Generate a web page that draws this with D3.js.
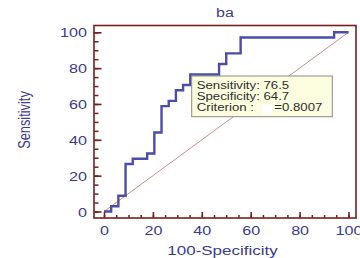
<!DOCTYPE html>
<html>
<head>
<meta charset="utf-8">
<script src="https://cdn.jsdelivr.net/npm/d3@7"></script>
<style>
  body { margin: 0; background: #fff; }
  svg { display: block; font-family: "Liberation Sans", Arial, sans-serif; }
</style>
</head>
<body>
<svg id="chart" width="360" height="258"></svg>
<script>
// ROC 曲线数据 (100-Specificity, Sensitivity)
const fpr = [0, 2.94, 5.88, 8.82, 11.76, 17.65, 20.59, 23.53, 26.47, 29.41, 32.35, 35.29, 47.06, 50.0, 55.88, 94.12, 100];
const tpr = [0, 2.94, 8.82, 26.47, 29.41, 32.35, 44.12, 58.82, 61.76, 67.65, 70.59, 76.47, 82.35, 88.24, 97.06, 100, 100];
const xTicks = [0, 20, 40, 60, 80, 100];
const yTicks = [0, 20, 40, 60, 80, 100];
const boxLines = ["Sensitivity: 76.5", "Specificity: 64.7", "Criterion :"];
const criterion = "=0.8007";

const svg = d3.select('#chart');
const navy = '#3b3b94', frame = '#7a1f1f';
const sx = 1.28; // 原图文字横向拉伸

// 坐标区域
const pLeft = 94, pRight = 356, pTop = 25.5, pBottom = 218;
const x = d3.scaleLinear().domain([0, 100]).range([104, 348.5]);
const y = d3.scaleLinear().domain([0, 100]).range([211.5, 32.3]);

// 对角参考线
svg.append('line')
    .attr('x1', x(0)).attr('y1', y(0))
    .attr('x2', x(100)).attr('y2', y(100))
    .attr('stroke', '#c98080').attr('stroke-width', 0.9);

// ROC 阶梯线
const pts = fpr.map((f, i) => [f, tpr[i]]);
const line = d3.line().x(d => x(d[0])).y(d => y(d[1])).curve(d3.curveStepAfter);
svg.append('path')
    .attr('d', line(pts))
    .attr('fill', 'none')
    .attr('stroke', '#4c4caa')
    .attr('stroke-width', 2.4);

// 边框
svg.append('rect')
    .attr('x', pLeft).attr('y', pTop)
    .attr('width', pRight - pLeft).attr('height', pBottom - pTop)
    .attr('fill', 'none').attr('stroke', frame).attr('stroke-width', 1.6);

// 次刻度
const minor = d3.range(0, 101, 5);
svg.append('g').attr('transform', `translate(${pLeft},0)`)
    .call(d3.axisLeft(y).tickValues(minor).tickSize(-4.5).tickFormat(''))
    .call(g => g.select('.domain').remove())
    .call(g => g.selectAll('line').attr('stroke', frame).attr('stroke-width', 1.5));
svg.append('g').attr('transform', `translate(0,${pBottom})`)
    .call(d3.axisBottom(x).tickValues(minor).tickSize(-3).tickFormat(''))
    .call(g => g.select('.domain').remove())
    .call(g => g.selectAll('line').attr('stroke', frame).attr('stroke-width', 1.5));

// 主刻度 + 标签
svg.append('g').attr('transform', `translate(${pLeft},0)`)
    .call(d3.axisLeft(y).tickValues(yTicks).tickSize(-7.5))
    .call(g => g.select('.domain').remove())
    .call(g => g.selectAll('line').attr('stroke', frame).attr('stroke-width', 1.6))
    .call(g => g.selectAll('text')
        .attr('x', null).attr('dy', '0.36em')
        .attr('text-anchor', 'end')
        .attr('transform', `translate(-7,0) scale(${sx},1)`)
        .attr('fill', navy).style('font-size', '12.6px'));
svg.append('g').attr('transform', `translate(0,${pBottom})`)
    .call(d3.axisBottom(x).tickValues(xTicks).tickSize(-6))
    .call(g => g.select('.domain').remove())
    .call(g => g.selectAll('line').attr('stroke', frame).attr('stroke-width', 1.6))
    .call(g => g.selectAll('text')
        .attr('y', null).attr('dy', null)
        .attr('text-anchor', 'middle')
        .attr('transform', `translate(0,17) scale(${sx},1)`)
        .attr('fill', navy).style('font-size', '12.6px'));
svg.selectAll('.tick text').style('font-family', '"Liberation Sans", Arial, sans-serif');

// 标题与轴标题
svg.append('text')
    .attr('transform', `translate(225,16.7) scale(${sx},1)`)
    .attr('text-anchor', 'middle').attr('fill', navy)
    .style('font-size', '12.5px').text('ba');
svg.append('text')
    .attr('transform', `translate(222.5,255) scale(1.25,1)`)
    .attr('text-anchor', 'middle').attr('fill', navy)
    .style('font-size', '13.6px').text('100-Specificity');
svg.append('text')
    .attr('transform', `translate(29.5,120) rotate(-90) scale(1,1.25)`)
    .attr('text-anchor', 'middle').attr('fill', navy)
    .style('font-size', '12.8px').text('Sensitivity');

// 提示框
const box = svg.append('g');
box.append('rect')
    .attr('x', 191.7).attr('y', 76)
    .attr('width', 140.6).attr('height', 40.7)
    .attr('fill', '#fdfde0').attr('stroke', '#8c8c80').attr('stroke-width', 1);
box.append('rect')
    .attr('x', 261.7).attr('y', 104.5).attr('width', 10.6).attr('height', 10)
    .attr('fill', '#ffffff');
box.selectAll('text.l')
    .data(boxLines)
    .enter()
    .append('text')
    .attr('class', 'l')
    .attr('transform', (d, i) => `translate(196.7,${89.4 + i * 10.75}) scale(1.17,1)`)
    .attr('fill', '#2e2e2e').style('font-size', '11.3px')
    .text(d => d);
box.append('text')
    .attr('transform', `translate(274.3,111) scale(1.17,1)`)
    .attr('fill', '#2e2e2e').style('font-size', '11.3px')
    .text(criterion);
</script>
</body>
</html>
